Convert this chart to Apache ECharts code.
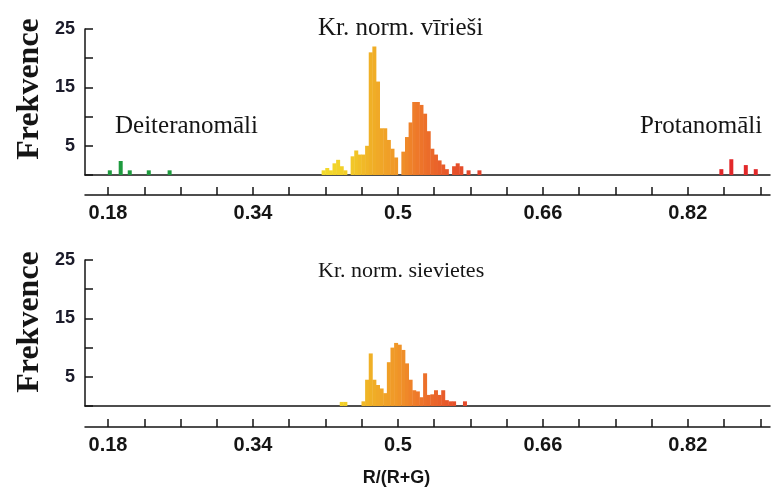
<!DOCTYPE html>
<html>
<head>
<meta charset="utf-8">
<script src="https://cdn.jsdelivr.net/npm/echarts@6/dist/echarts.min.js"></script>
<style>
  html, body { margin: 0; padding: 0; background: #fff; }
  #chart { width: 780px; height: 490px; }
</style>
</head>
<body>
<div id="chart"></div>
<script>
// R/(R+G) bin centres and frequencies, men (top panel)
const menR = [
  0.182, 0.194, 0.204, 0.225, 0.248,
  0.418, 0.422, 0.426, 0.430, 0.434, 0.438, 0.442,
  0.450, 0.454, 0.458, 0.462, 0.466, 0.470, 0.474, 0.478, 0.482, 0.486, 0.490, 0.494, 0.498,
  0.506, 0.510, 0.514, 0.518, 0.522, 0.526, 0.530, 0.534, 0.538, 0.542, 0.546, 0.550, 0.554,
  0.562, 0.566, 0.570, 0.578, 0.590,
  0.857, 0.868, 0.884, 0.895
]
const menCount = [
  0.8, 2.4, 0.8, 0.8, 0.8,
  0.8, 1.2, 0.8, 2.0, 2.6, 1.5, 0.8,
  3.2, 4.2, 3.5, 3.5, 5, 21, 22, 16, 8, 8, 6, 4.5, 3,
  4, 6.5, 9, 12.5, 12.5, 12, 10.5, 7.5, 4.5, 3.5, 2.5, 1.8, 1,
  1.5, 2, 1.5, 0.8, 0.8,
  1, 2.7, 1.7, 1
]
// women (bottom panel)
const womenR = [
  0.438, 0.442,
  0.462, 0.466, 0.470, 0.474, 0.478, 0.482, 0.486, 0.490, 0.494, 0.498,
  0.502, 0.506, 0.510, 0.514, 0.518, 0.522, 0.526, 0.530, 0.534, 0.538,
  0.542, 0.546, 0.550, 0.554, 0.558, 0.562, 0.574
]
const womenCount = [
  0.7, 0.7,
  0.8, 4.5, 9, 4.5, 3.6, 3, 2.2, 7.5, 10, 10.8,
  10.5, 9.6, 7.3, 4.5, 2.7, 2.5, 1.5, 5.6, 1.9, 2.0,
  2.7, 1.9, 2.7, 1.0, 0.8, 0.8, 0.8
]
const tickValues = [0.18, 0.22, 0.26, 0.30, 0.34, 0.38, 0.42, 0.46, 0.50, 0.54,
  0.58, 0.62, 0.66, 0.70, 0.74, 0.78, 0.82, 0.86, 0.90]
const tickLabels = [0.18, 0.34, 0.5, 0.66, 0.82]
const yLabels = [5, 15, 25]

const XMIN = 0.1546
const XMAX = 0.9107
const ink = '#151515'
const serif = '"Liberation Serif", "Times New Roman", serif'
const sans = '"Liberation Sans", Arial, sans-serif'

// colour along R/(R+G): green deutan, yellow -> red normals, red protan
const stops = [
  [0.41, [243, 222, 44]],
  [0.445, [242, 205, 40]],
  [0.47, [240, 176, 38]],
  [0.50, [240, 150, 40]],
  [0.52, [238, 122, 42]],
  [0.56, [230, 82, 42]],
  [0.60, [224, 60, 42]],
]
const colorFor = (v) => {
  if (v < 0.3) return '#1e9a3e'
  if (v > 0.8) return '#e2282a'
  if (v <= stops[0][0]) return 'rgb(' + stops[0][1].join(',') + ')'
  for (let i = 1; i < stops.length; i++) {
    if (v <= stops[i][0]) {
      const [a, ca] = stops[i - 1]
      const [b, cb] = stops[i]
      const t = (v - a) / (b - a)
      return 'rgb(' + ca.map((c, k) => Math.round(c + (cb[k] - c) * t)).join(',') + ')'
    }
  }
  return 'rgb(' + stops[stops.length - 1][1].join(',') + ')'
}

const pairs = (xs, ys) => xs.map((x, i) => [x, ys[i]])

const baseAxis = (gridIndex) => ({
  type: 'value',
  gridIndex,
  min: XMIN,
  max: XMAX,
  axisLine: { show: true, onZero: false, lineStyle: { color: ink, width: 1.5 } },
  axisTick: { show: false },
  axisLabel: { show: false },
  splitLine: { show: false },
})
const tickAxis = (gridIndex, offset) => ({
  type: 'value',
  gridIndex,
  position: 'bottom',
  offset,
  min: XMIN,
  max: XMAX,
  axisLine: { show: true, onZero: false, lineStyle: { color: ink, width: 1.5 } },
  axisTick: { show: true, inside: true, length: 8, customValues: tickValues,
    lineStyle: { color: ink, width: 1.5 } },
  axisLabel: { show: true, customValues: tickLabels, margin: 8,
    color: ink, fontFamily: sans, fontWeight: 'bold', fontSize: 20,
    formatter: (v) => String(v) },
  splitLine: { show: false },
})
const yAxis = (gridIndex) => ({
  type: 'value',
  gridIndex,
  min: 0,
  max: 25,
  interval: 5,
  axisLine: { show: true, lineStyle: { color: ink, width: 1.5 } },
  axisTick: { show: true, inside: true, length: 8, lineStyle: { color: ink, width: 1.5 } },
  axisLabel: { margin: 10, color: '#1b1b2a', fontFamily: sans, fontWeight: 'bold', fontSize: 18,
    formatter: (v) => (yLabels.includes(v) ? String(v) : '') },
  splitLine: { show: false },
})

const label = (text, left, top, size) => ({
  text, left, top, padding: 0,
  textStyle: { fontFamily: serif, fontWeight: 'normal', fontSize: size, color: ink },
})

const chart = echarts.init(document.getElementById('chart'), null, { renderer: 'canvas' })
chart.setOption({
  backgroundColor: '#fff',
  animation: false,
  title: [
    label('Kr. norm. vīrieši', 318, 16, 25),
    label('Deiteranomāli', 115, 114, 25),
    label('Protanomāli', 640, 114, 25),
    label('Kr. norm. sievietes', 318, 260, 22),
  ],
  graphic: [
    { type: 'text', x: 30, y: 89, rotation: Math.PI / 2,
      style: { text: 'Frekvence', font: 'bold 32px ' + serif, fill: ink,
        textAlign: 'center', textVerticalAlign: 'middle' } },
    { type: 'text', x: 30, y: 322, rotation: Math.PI / 2,
      style: { text: 'Frekvence', font: 'bold 32px ' + serif, fill: ink,
        textAlign: 'center', textVerticalAlign: 'middle' } },
  ],
  grid: [
    { left: 85, top: 29, width: 685, height: 146 },
    { left: 85, top: 260, width: 685, height: 146 },
  ],
  xAxis: [
    baseAxis(0),
    tickAxis(0, 20),
    baseAxis(1),
    Object.assign(tickAxis(1, 21), {
      name: 'R/(R+G)', nameLocation: 'middle', nameGap: 42,
      nameTextStyle: { fontFamily: sans, fontWeight: 'bold', fontSize: 18, color: ink,
        padding: [0, 62, 0, 0] },
    }),
  ],
  yAxis: [yAxis(0), yAxis(1)],
  series: [
    {
      type: 'bar', xAxisIndex: 0, yAxisIndex: 0, barWidth: 4,
      data: pairs(menR, menCount),
      itemStyle: { color: (p) => colorFor(p.value[0]) },
    },
    {
      type: 'bar', xAxisIndex: 2, yAxisIndex: 1, barWidth: 4,
      data: pairs(womenR, womenCount),
      itemStyle: { color: (p) => colorFor(p.value[0]) },
    },
  ],
})
</script>
</body>
</html>
